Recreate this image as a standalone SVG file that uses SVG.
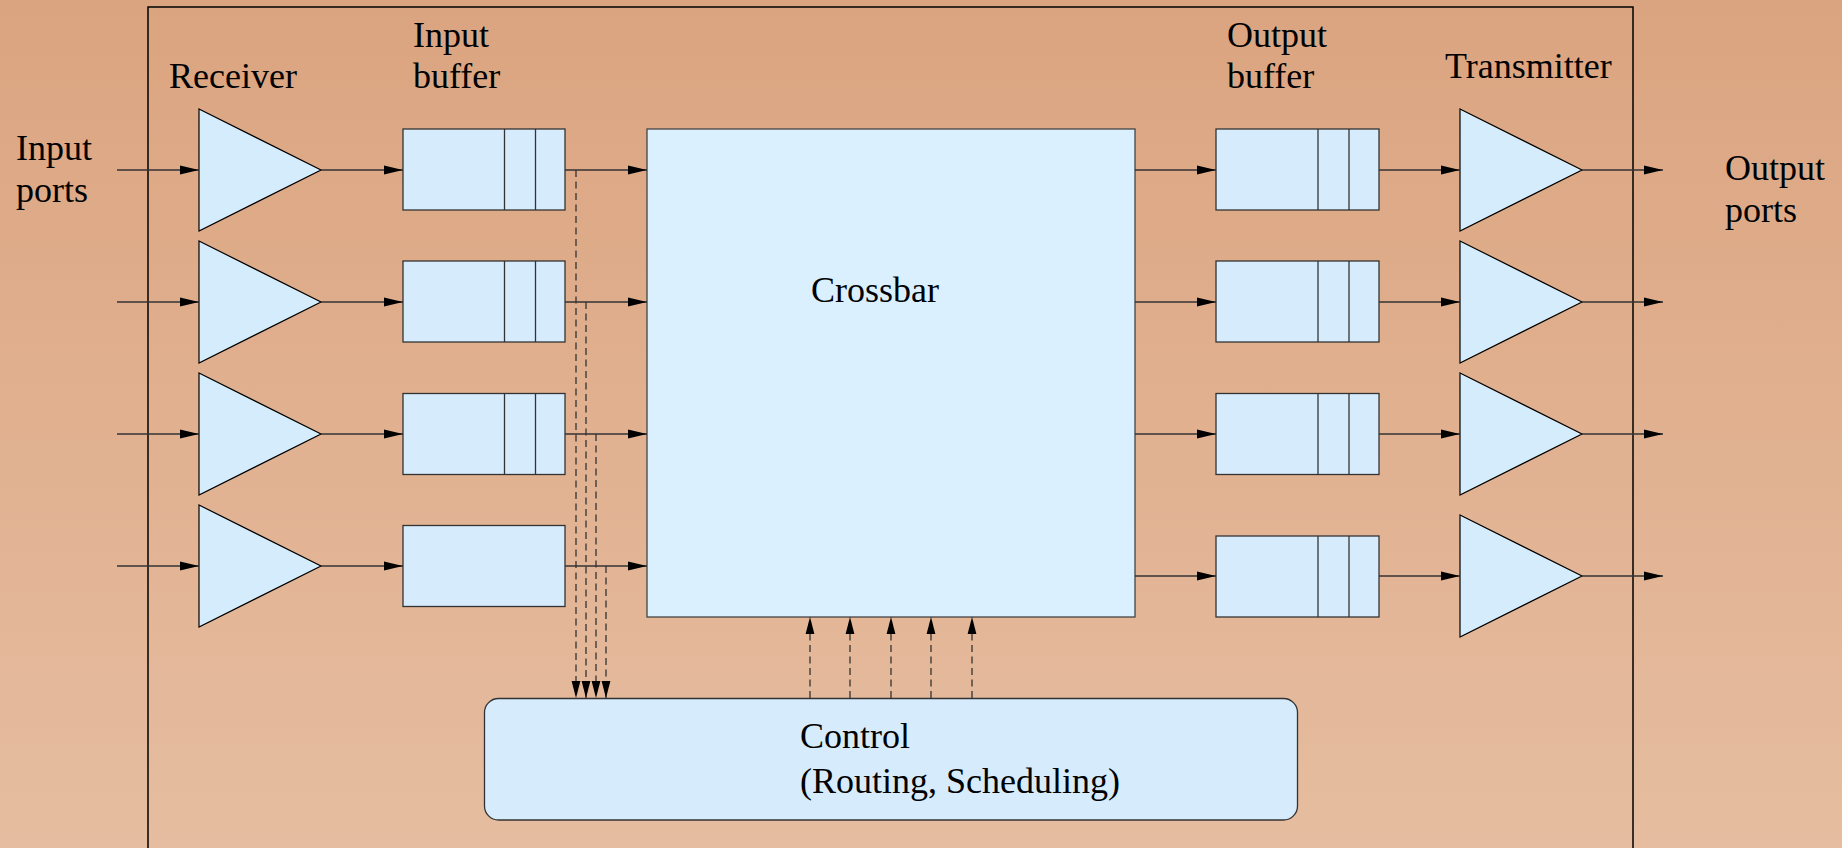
<svg xmlns="http://www.w3.org/2000/svg" width="1842" height="848" viewBox="0 0 1842 848">
<defs>
<linearGradient id="bg" x1="0" y1="0" x2="0" y2="1">
<stop offset="0" stop-color="#dba480"/>
<stop offset="1" stop-color="#e6bda0"/>
</linearGradient>
<marker id="ah" markerWidth="19" markerHeight="10" refX="19" refY="5" orient="auto" markerUnits="userSpaceOnUse">
<path d="M0,0.5 L19,5 L0,9.5 Z" fill="#000"/>
</marker>
<marker id="ahd" markerWidth="17" markerHeight="10" refX="17" refY="5" orient="auto" markerUnits="userSpaceOnUse">
<path d="M0,0.6 L17,5 L0,9.4 Z" fill="#000"/>
</marker>
</defs>
<style>
text{font-family:"Liberation Serif","Times New Roman",serif;font-size:36px;fill:#000}
.tri{fill:#d5ecfd;stroke:#000;stroke-width:1.2}
.buf{fill:#d6ecfd;stroke:#333;stroke-width:1.3}
.div{stroke:#333;stroke-width:1.3}
.xb{fill:#daf0ff;stroke:#444;stroke-width:1.3}
.ln{stroke:#333;stroke-width:1.3;fill:none;marker-end:url(#ah)}
.dl{stroke:#333;stroke-width:1.3;fill:none;stroke-dasharray:7 4.5;marker-end:url(#ahd)}
</style>
<rect x="0" y="0" width="1842" height="848" fill="url(#bg)"/>
<path d="M148,870 V7 H1633 V870" fill="none" stroke="#000" stroke-width="1.5"/>

<g id="labels">
<text x="16" y="160">Input</text>
<text x="16" y="202">ports</text>
<text x="169" y="88">Receiver</text>
<text x="413" y="47">Input</text>
<text x="413" y="88">buffer</text>
<text x="1227" y="47">Output</text>
<text x="1227" y="88">buffer</text>
<text x="1445" y="78">Transmitter</text>
<text x="1725" y="180">Output</text>
<text x="1725" y="222">ports</text>
</g>

<g id="receiver1"><polygon class="tri" points="199,109 321,170 199,231"/></g>
<g id="receiver2"><polygon class="tri" points="199,241 321,302 199,363"/></g>
<g id="receiver3"><polygon class="tri" points="199,373 321,434 199,495"/></g>
<g id="receiver4"><polygon class="tri" points="199,505 321,566 199,627"/></g>

<g id="inbuf1"><rect class="buf" x="403" y="129" width="162" height="81"/><line class="div" x1="504.5" y1="129" x2="504.5" y2="210"/><line class="div" x1="535.5" y1="129" x2="535.5" y2="210"/></g>
<g id="inbuf2"><rect class="buf" x="403" y="261" width="162" height="81"/><line class="div" x1="504.5" y1="261" x2="504.5" y2="342"/><line class="div" x1="535.5" y1="261" x2="535.5" y2="342"/></g>
<g id="inbuf3"><rect class="buf" x="403" y="393.5" width="162" height="81"/><line class="div" x1="504.5" y1="393.5" x2="504.5" y2="474.5"/><line class="div" x1="535.5" y1="393.5" x2="535.5" y2="474.5"/></g>
<g id="inbuf4"><rect class="buf" x="403" y="525.5" width="162" height="81" fill="#daf0ff"/></g>

<g id="crossbar"><rect class="xb" x="647" y="129" width="488" height="488"/><text x="811" y="302">Crossbar</text></g>

<g id="outbuf1"><rect class="buf" x="1216" y="129" width="163" height="81"/><line class="div" x1="1318" y1="129" x2="1318" y2="210"/><line class="div" x1="1349" y1="129" x2="1349" y2="210"/></g>
<g id="outbuf2"><rect class="buf" x="1216" y="261" width="163" height="81"/><line class="div" x1="1318" y1="261" x2="1318" y2="342"/><line class="div" x1="1349" y1="261" x2="1349" y2="342"/></g>
<g id="outbuf3"><rect class="buf" x="1216" y="393.5" width="163" height="81"/><line class="div" x1="1318" y1="393.5" x2="1318" y2="474.5"/><line class="div" x1="1349" y1="393.5" x2="1349" y2="474.5"/></g>
<g id="outbuf4"><rect class="buf" x="1216" y="536" width="163" height="81"/><line class="div" x1="1318" y1="536" x2="1318" y2="617"/><line class="div" x1="1349" y1="536" x2="1349" y2="617"/></g>

<g id="transmitter1"><polygon class="tri" points="1460,109 1582,170 1460,231"/></g>
<g id="transmitter2"><polygon class="tri" points="1460,241 1582,302 1460,363"/></g>
<g id="transmitter3"><polygon class="tri" points="1460,373 1582,434 1460,495"/></g>
<g id="transmitter4"><polygon class="tri" points="1460,515 1582,576 1460,637"/></g>

<g id="control"><rect class="buf" x="484.5" y="698.5" width="813" height="121.5" rx="14" ry="14" fill="#d5ebfc" stroke="#222"/>
<text x="800" y="748">Control</text>
<text x="800" y="793">(Routing, Scheduling)</text></g>

<g id="connectors">
<line class="ln" x1="117" y1="170" x2="199" y2="170"/>
<line class="ln" x1="117" y1="302" x2="199" y2="302"/>
<line class="ln" x1="117" y1="434" x2="199" y2="434"/>
<line class="ln" x1="117" y1="566" x2="199" y2="566"/>
<line class="ln" x1="321" y1="170" x2="403" y2="170"/>
<line class="ln" x1="321" y1="302" x2="403" y2="302"/>
<line class="ln" x1="321" y1="434" x2="403" y2="434"/>
<line class="ln" x1="321" y1="566" x2="403" y2="566"/>
<line class="ln" x1="565" y1="170" x2="647" y2="170"/>
<line class="ln" x1="565" y1="302" x2="647" y2="302"/>
<line class="ln" x1="565" y1="434" x2="647" y2="434"/>
<line class="ln" x1="565" y1="566" x2="647" y2="566"/>
<line class="ln" x1="1135" y1="170" x2="1216" y2="170"/>
<line class="ln" x1="1135" y1="302" x2="1216" y2="302"/>
<line class="ln" x1="1135" y1="434" x2="1216" y2="434"/>
<line class="ln" x1="1135" y1="576" x2="1216" y2="576"/>
<line class="ln" x1="1379" y1="170" x2="1460" y2="170"/>
<line class="ln" x1="1379" y1="302" x2="1460" y2="302"/>
<line class="ln" x1="1379" y1="434" x2="1460" y2="434"/>
<line class="ln" x1="1379" y1="576" x2="1460" y2="576"/>
<line class="ln" x1="1582" y1="170" x2="1663" y2="170"/>
<line class="ln" x1="1582" y1="302" x2="1663" y2="302"/>
<line class="ln" x1="1582" y1="434" x2="1663" y2="434"/>
<line class="ln" x1="1582" y1="576" x2="1663" y2="576"/>
<line class="dl" x1="576" y1="170" x2="576" y2="698"/>
<line class="dl" x1="586" y1="302" x2="586" y2="698"/>
<line class="dl" x1="596" y1="434" x2="596" y2="698"/>
<line class="dl" x1="606" y1="566" x2="606" y2="698"/>
<line class="dl" x1="810" y1="698" x2="810" y2="617"/>
<line class="dl" x1="850" y1="698" x2="850" y2="617"/>
<line class="dl" x1="891" y1="698" x2="891" y2="617"/>
<line class="dl" x1="931" y1="698" x2="931" y2="617"/>
<line class="dl" x1="972" y1="698" x2="972" y2="617"/>
</g>
</svg>
